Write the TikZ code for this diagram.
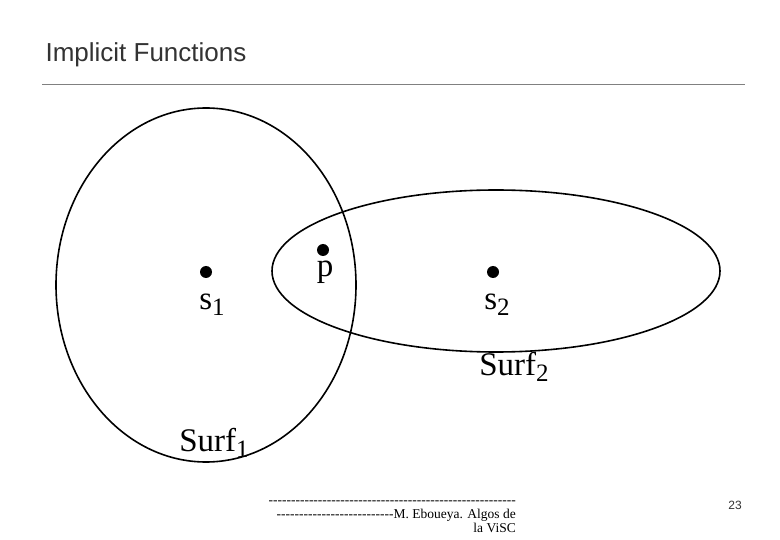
\documentclass[tikz,border=0pt]{standalone}
\usepackage{fontspec}
\usetikzlibrary{shapes.geometric}
\setmainfont{Liberation Serif}
\newfontfamily\arial{Liberation Sans}
\newfontfamily\footfont[Ligatures=TeXOff]{Liberation Serif}
\newcommand{\lsub}[1]{\raisebox{-6pt}{\fontsize{25}{25}\selectfont #1}}
\begin{document}
\begin{tikzpicture}[x=1pt,y=-1pt,
  curve/.style={draw=black,line width=1.6pt},
  dotpt/.style={circle,fill=black,inner sep=0pt,minimum size=12pt},
  lab/.style={font=\fontsize{33}{33}\selectfont,inner sep=0pt}]
\useasboundingbox[fill=white] (0,0) rectangle (780,540);
\node[anchor=west,font=\arial\fontsize{26}{28}\selectfont,text=black!80] (title) at (42,55) {Implicit Functions};
\coordinate (l1) at (42,84); \coordinate (l2) at (745,84);
\draw[gray,line width=0.8pt] (l1) -- (l2);
\node[curve,ellipse,inner sep=0pt,minimum width=300pt,minimum height=354pt] (c1) at (206,285) {};
\node[curve,ellipse,inner sep=0pt,minimum width=448pt,minimum height=162pt] (c2) at (496,271) {};
\node[dotpt] (d1) at (206,272) {};
\node[dotpt] (dp) at (323,250) {};
\node[dotpt] (d2) at (493,272) {};
\node[lab] (s1) at (212,305) {s\lsub{1}};
\node[lab] (p) at (325,272) {p};
\node[lab] (s2) at (497,305) {s\lsub{2}};
\node[lab] (surf2) at (514,367) {Surf\lsub{2}};
\node[lab] (surf1) at (214,443) {Surf\lsub{1}};
\node[font=\footfont\fontsize{13.5}{14}\selectfont,align=right,anchor=north east,inner sep=0pt] (foot) at (516,501)
 {-------------------------------------------------------\\--------------------------M. Eboueya. Algos de\\la ViSC};
\node[font=\arial\fontsize{12}{13}\selectfont,text=black!80] (pg) at (735,505) {23};
\end{tikzpicture}
\end{document}
